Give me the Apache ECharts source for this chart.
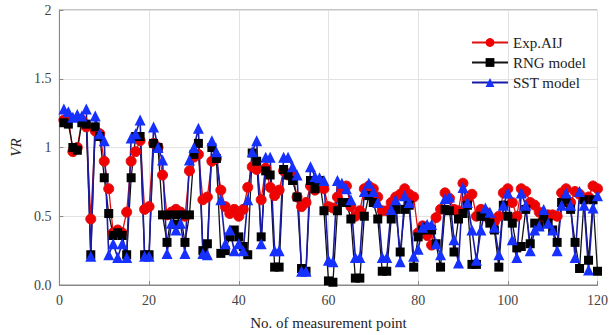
<!DOCTYPE html>
<html>
<head>
<meta charset="utf-8">
<script src="https://cdn.jsdelivr.net/npm/echarts@6/dist/echarts.min.js"></script>
<style>
  html, body { margin: 0; padding: 0; background: #fff; }
  #chart { width: 611px; height: 335px; }
</style>
</head>
<body>
<div id="chart"></div>
<script>
var points = [];
for (var i = 1; i <= 120; i++) points.push(i);

var expAIJ = [
  1.20, 1.22, 0.97, 1.00, 1.20, 1.15, 0.48, 1.12, 1.10, 0.90,
  0.70, 0.38, 0.40, 0.38, 0.53, 0.90, 0.97, 1.05, 0.55, 0.57,
  1.03, 1.00, 0.80, 0.51, 0.53, 0.55, 0.53, 0.50, 0.83, 0.93,
  0.95, 0.62, 0.64, 0.90, 0.92, 0.69, 0.57, 0.52, 0.55, 0.50,
  0.55, 0.71, 0.86, 0.84, 0.62, 0.85, 0.71, 0.65, 0.69, 0.83,
  0.80, 0.81, 0.64, 0.57, 0.60, 0.72, 0.69, 0.72, 0.70, 0.57,
  0.56, 0.64, 0.70, 0.72, 0.57, 0.50, 0.54, 0.70, 0.72, 0.70,
  0.64, 0.54, 0.54, 0.60, 0.64, 0.66, 0.70, 0.66, 0.64, 0.38,
  0.43, 0.36, 0.29, 0.49, 0.55, 0.67, 0.63, 0.55, 0.54, 0.74,
  0.62, 0.66, 0.50, 0.55, 0.53, 0.47, 0.46, 0.50, 0.67, 0.70,
  0.60, 0.50, 0.70, 0.68, 0.60, 0.58, 0.53, 0.49, 0.51, 0.51,
  0.50, 0.67, 0.70, 0.60, 0.68, 0.66, 0.62, 0.64, 0.72, 0.70
];

var rngModel = [
  1.18, 1.17, 1.00, 0.98, 1.18, 1.17, 0.22, 1.15, 1.08, 0.78,
  0.52, 0.36, 0.38, 0.36, 0.22, 0.78, 1.08, 1.08, 0.22, 0.22,
  1.03, 1.00, 0.51, 0.31, 0.51, 0.44, 0.51, 0.31, 0.51, 0.95,
  1.03, 0.25, 0.30, 1.00, 0.92, 0.23, 0.25, 0.35, 0.40, 0.35,
  0.28, 0.22, 0.96, 0.90, 0.35, 0.83, 0.80, 0.13, 0.13, 0.84,
  0.80, 0.76, 0.64, 0.12, 0.10, 0.76, 0.70, 0.76, 0.54, 0.03,
  0.02, 0.54, 0.60, 0.60, 0.48, 0.05, 0.05, 0.50, 0.65, 0.60,
  0.48, 0.10, 0.10, 0.48, 0.55, 0.24, 0.55, 0.58, 0.13, 0.35,
  0.40, 0.42, 0.40, 0.30, 0.13, 0.55, 0.54, 0.24, 0.48, 0.52,
  0.58, 0.15, 0.15, 0.50, 0.50, 0.45, 0.40, 0.13, 0.58, 0.50,
  0.45, 0.27, 0.28, 0.55, 0.30, 0.45, 0.43, 0.50, 0.45, 0.40,
  0.31, 0.60, 0.62, 0.55, 0.31, 0.12, 0.62, 0.18, 0.62, 0.10
];

var sstModel = [
  1.28, 1.26, 1.22, 1.24, 1.23, 1.28, 0.21, 1.23, 1.10, 1.05,
  0.22, 0.30, 0.20, 0.30, 0.20, 1.07, 1.10, 1.20, 0.21, 0.21,
  1.15, 1.00, 0.91, 0.23, 0.45, 0.40, 0.45, 0.23, 0.91, 1.00,
  1.14, 0.23, 0.22, 1.05, 0.97, 0.62, 0.30, 0.40, 0.25, 0.30,
  0.25, 0.62, 0.97, 1.05, 0.30, 0.93, 0.93, 0.25, 0.25, 0.93,
  0.93, 0.86, 0.80, 0.10, 0.10, 0.86, 0.79, 0.78, 0.76, 0.18,
  0.17, 0.76, 0.74, 0.70, 0.62, 0.20, 0.20, 0.68, 0.74, 0.68,
  0.60, 0.20, 0.20, 0.55, 0.62, 0.17, 0.65, 0.60, 0.21, 0.26,
  0.42, 0.44, 0.44, 0.30, 0.22, 0.63, 0.64, 0.33, 0.16, 0.71,
  0.60, 0.40, 0.18, 0.40, 0.56, 0.53, 0.42, 0.22, 0.58, 0.67,
  0.33, 0.20, 0.67, 0.58, 0.25, 0.40, 0.43, 0.55, 0.45, 0.40,
  0.25, 0.58, 0.67, 0.58, 0.20, 0.68, 0.58, 0.11, 0.56, 0.65
];

var xTicks = [0, 20, 40, 60, 80, 100, 120];
var yTickLabels = ['0.0', '0.5', '1', '1.5', '2'];

function pairs(vals) {
  return vals.map(function(v, i) { return [points[i], v]; });
}

var serif = '"Liberation Serif", "DejaVu Serif", serif';
var chart = echarts.init(document.getElementById('chart'), null, { renderer: 'svg' });
chart.setOption({
  animation: false,
  grid: { left: 53, right: 10, top: 10, bottom: 50, show: true, borderColor: '#888', borderWidth: 1 },
  legend: {
    orient: 'vertical',
    left: 466,
    top: 30,
    itemWidth: 36,
    itemHeight: 11,
    itemGap: 5,
    textStyle: { fontFamily: serif, fontSize: 15, color: '#222' },
    data: ['Exp.AIJ', 'RNG model', 'SST model']
  },
  xAxis: {
    type: 'value',
    min: 0,
    max: 120,
    interval: 20,
    name: 'No. of measurement point',
    nameLocation: 'middle',
    nameGap: 30,
    nameTextStyle: { fontFamily: serif, fontSize: 15, color: '#222' },
    axisLine: { lineStyle: { color: '#888' } },
    axisTick: { inside: true, length: 4, lineStyle: { color: '#888' } },
    axisLabel: { fontFamily: serif, fontSize: 14, color: '#444', margin: 8,
      formatter: function(v) { return xTicks.indexOf(v) >= 0 ? String(v) : ''; } },
    splitLine: { show: true, lineStyle: { color: '#e2e2e2', width: 1 } }
  },
  yAxis: {
    type: 'value',
    min: 0,
    max: 2,
    interval: 0.5,
    name: 'VR',
    nameLocation: 'middle',
    nameGap: 32,
    nameTextStyle: { fontFamily: serif, fontSize: 15, fontStyle: 'italic', color: '#222' },
    axisLine: { show: true, lineStyle: { color: '#888' } },
    axisTick: { inside: true, length: 4, lineStyle: { color: '#888' } },
    axisLabel: { fontFamily: serif, fontSize: 14, color: '#444', margin: 8,
      formatter: function(v) { return yTickLabels[Math.round(v / 0.5)]; } },
    splitLine: { show: true, lineStyle: { color: '#e2e2e2', width: 1 } }
  },
  series: [
    {
      name: 'Exp.AIJ', type: 'line', data: pairs(expAIJ),
      symbol: 'circle', symbolSize: 10,
      lineStyle: { color: '#e01010', width: 1.3 },
      itemStyle: { color: '#f00000', borderColor: '#e01010' }
    },
    {
      name: 'RNG model', type: 'line', data: pairs(rngModel),
      symbol: 'rect', symbolSize: 9,
      lineStyle: { color: '#111', width: 1.3 },
      itemStyle: { color: '#000' }
    },
    {
      name: 'SST model', type: 'line', data: pairs(sstModel),
      symbol: 'triangle', symbolSize: 11,
      lineStyle: { color: '#1a1aa8', width: 1.6 },
      itemStyle: { color: '#1530ff' }
    }
  ]
});
window.addEventListener('resize', function() { chart.resize(); });
</script>
</body>
</html>
